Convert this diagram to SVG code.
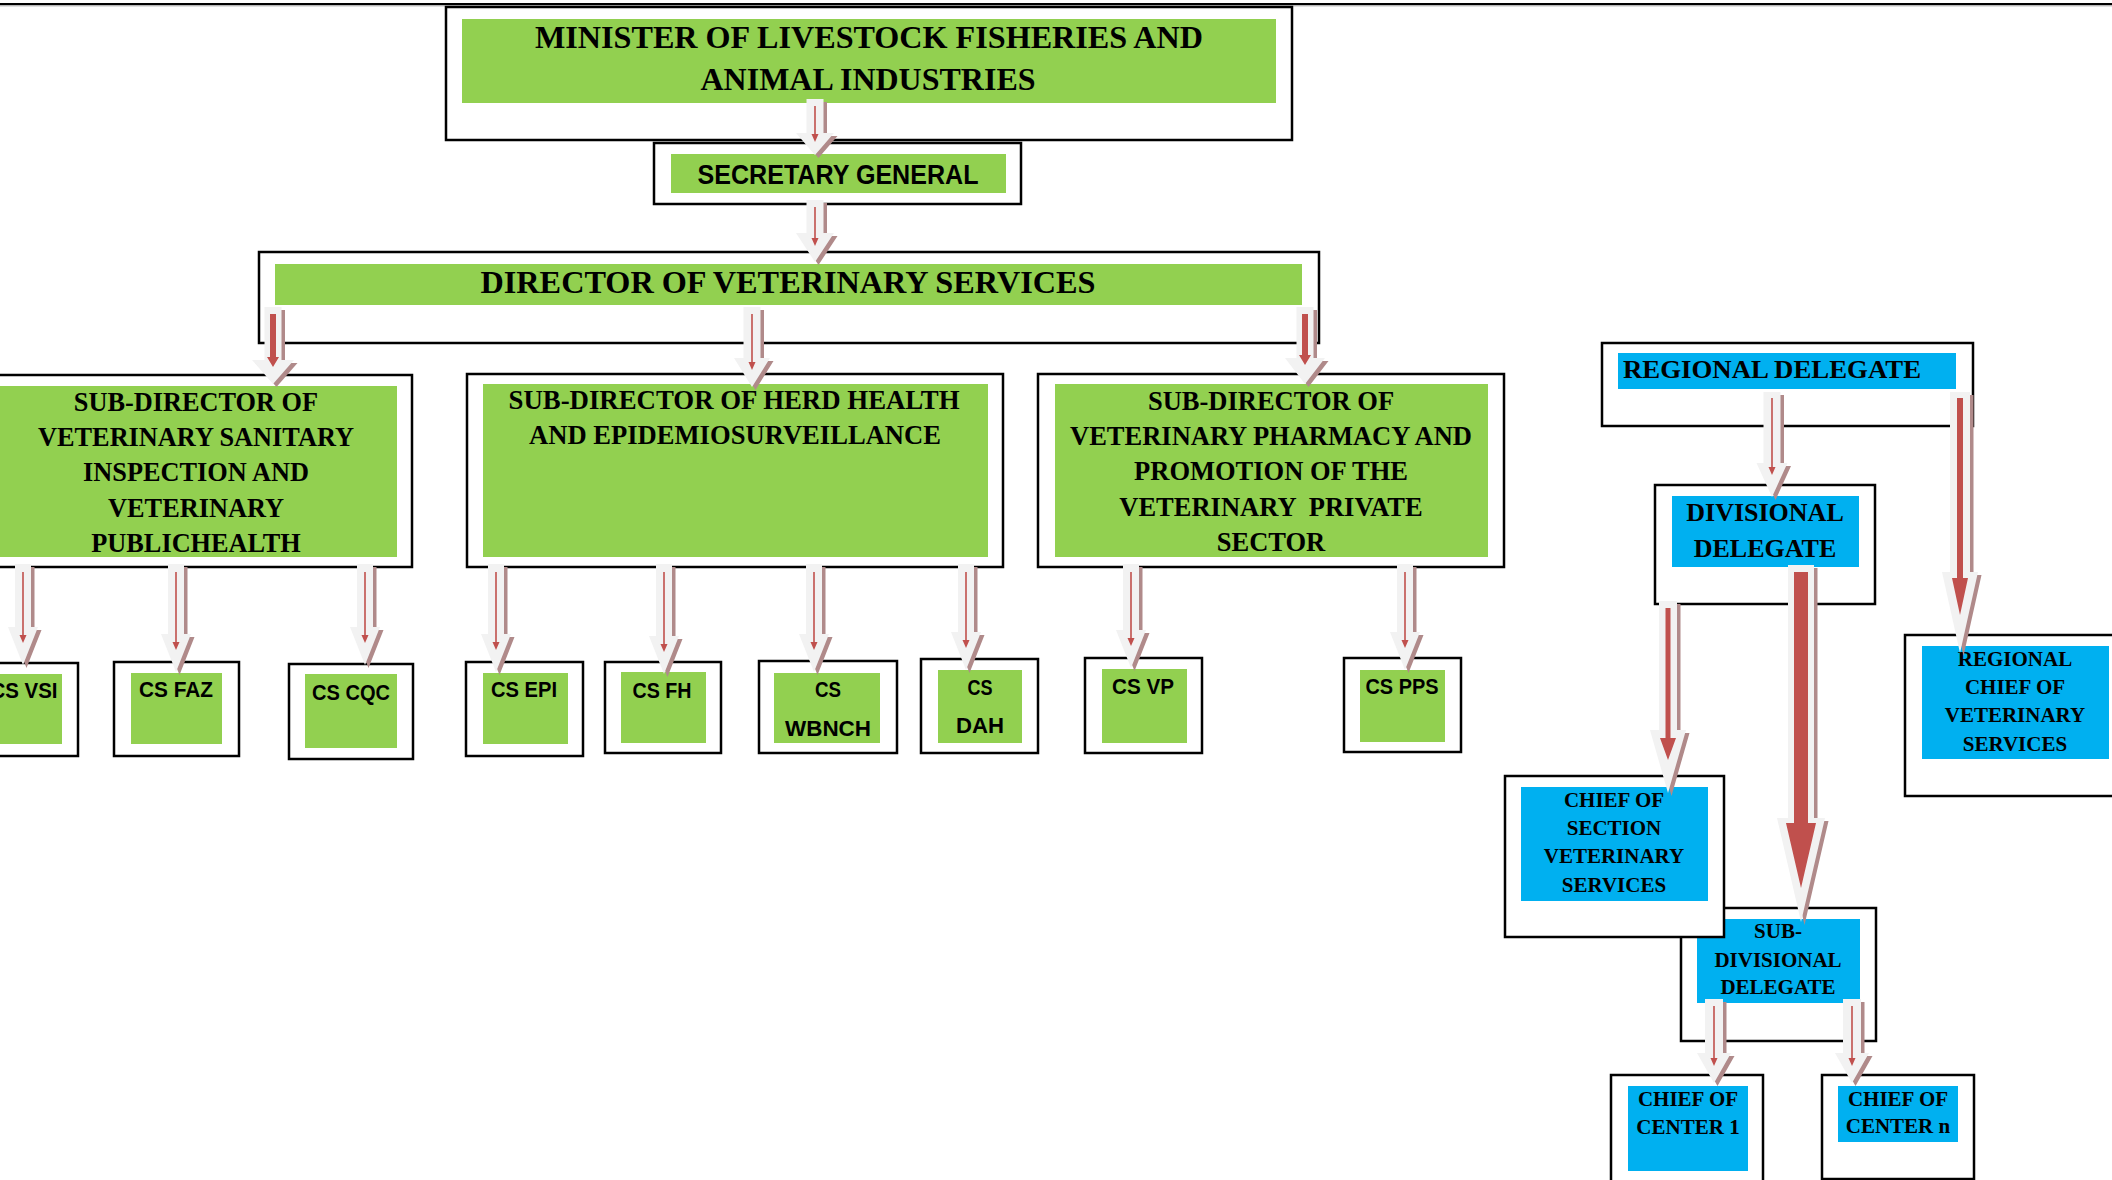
<svg xmlns="http://www.w3.org/2000/svg" width="2112" height="1180" viewBox="0 0 2112 1180">
<style>
.frame{fill:#fff;stroke:#000;stroke-width:2.5}
.g{fill:#92d050}
.b{fill:#00b0f0}
.t{font-family:"Liberation Serif","Times New Roman",serif;font-weight:bold;fill:#000;text-anchor:middle}
.s{font-family:"Liberation Sans",Arial,sans-serif;font-weight:bold;fill:#000;text-anchor:middle}
.ar{fill:#f2f2f2}
.sh{fill:#b08a8a}
.rd{fill:#c0504d}
</style>
<rect x="0" y="0" width="2112" height="1180" fill="#fff"/>
<line x1="0" y1="4" x2="2112" y2="4" stroke="#000" stroke-width="2"/>
<line x1="0" y1="5.8" x2="2112" y2="5.8" stroke="#999" stroke-width="1"/>

<g id="minister">
<rect class="frame" x="446" y="7" width="846" height="133"/>
<rect class="g" x="462" y="19" width="814" height="84"/>
<text class="t" x="869" y="48" font-size="32" textLength="668" lengthAdjust="spacingAndGlyphs">MINISTER OF LIVESTOCK FISHERIES AND</text>
<text class="t" x="868" y="90" font-size="32" textLength="335" lengthAdjust="spacingAndGlyphs">ANIMAL INDUSTRIES</text>
</g>
<g id="secretary-general">
<rect class="frame" x="654" y="143" width="367" height="61"/>
<rect class="g" x="671" y="154" width="335" height="39"/>
<text class="s" x="838" y="184" font-size="27" textLength="281" lengthAdjust="spacingAndGlyphs">SECRETARY GENERAL</text>
</g>
<g id="director">
<rect class="frame" x="259" y="252" width="1060" height="91"/>
<rect class="g" x="275" y="264" width="1027" height="41"/>
<text class="t" x="788" y="293" font-size="32" textLength="615" lengthAdjust="spacingAndGlyphs">DIRECTOR OF VETERINARY SERVICES</text>
</g>
<g id="sub-director-sanitary">
<rect class="frame" x="-20" y="375" width="432" height="192"/>
<rect class="g" x="-5" y="386" width="402" height="171"/>
<text class="t" font-size="26.3"><tspan x="196" y="411">SUB-DIRECTOR OF</tspan><tspan x="196" y="446">VETERINARY SANITARY</tspan><tspan x="196" y="481">INSPECTION AND</tspan><tspan x="196" y="517">VETERINARY</tspan><tspan x="196" y="552">PUBLICHEALTH</tspan></text>
</g>
<g id="sub-director-herd">
<rect class="frame" x="467" y="374" width="536" height="193"/>
<rect class="g" x="483" y="384" width="505" height="173"/>
<text class="t" x="734" y="409" font-size="26.5" textLength="451" lengthAdjust="spacingAndGlyphs">SUB-DIRECTOR OF HERD HEALTH</text>
<text class="t" x="735" y="444" font-size="26.5" textLength="412" lengthAdjust="spacingAndGlyphs">AND EPIDEMIOSURVEILLANCE</text>
</g>
<g id="sub-director-pharmacy">
<rect class="frame" x="1038" y="374" width="466" height="193"/>
<rect class="g" x="1055" y="384" width="433" height="173"/>
<text class="t" font-size="26.5" xml:space="preserve"><tspan x="1271" y="410">SUB-DIRECTOR OF</tspan><tspan x="1271" y="445">VETERINARY PHARMACY AND</tspan><tspan x="1271" y="480">PROMOTION OF THE</tspan><tspan x="1271" y="516">VETERINARY  PRIVATE</tspan><tspan x="1271" y="551">SECTOR</tspan></text>
</g>

<g id="cs-vsi">
<rect class="frame" x="-47" y="663" width="125" height="93"/>
<rect class="g" x="-29" y="674" width="91" height="70"/>
<text class="s" x="24" y="698" font-size="22" textLength="67" lengthAdjust="spacingAndGlyphs">CS VSI</text>
</g>
<g id="cs-faz">
<rect class="frame" x="114" y="662" width="125" height="94"/>
<rect class="g" x="131" y="673" width="91" height="71"/>
<text class="s" x="176" y="697" font-size="22" textLength="74" lengthAdjust="spacingAndGlyphs">CS FAZ</text>
</g>
<g id="cs-cqc">
<rect class="frame" x="289" y="664" width="124" height="95"/>
<rect class="g" x="305" y="674" width="92" height="74"/>
<text class="s" x="351" y="700" font-size="22" textLength="78" lengthAdjust="spacingAndGlyphs">CS CQC</text>
</g>
<g id="cs-epi">
<rect class="frame" x="466" y="662" width="117" height="94"/>
<rect class="g" x="483" y="673" width="85" height="71"/>
<text class="s" x="524" y="697" font-size="22" textLength="66" lengthAdjust="spacingAndGlyphs">CS EPI</text>
</g>
<g id="cs-fh">
<rect class="frame" x="605" y="662" width="116" height="91"/>
<rect class="g" x="621" y="672" width="85" height="71"/>
<text class="s" x="662" y="698" font-size="22" textLength="59" lengthAdjust="spacingAndGlyphs">CS FH</text>
</g>
<g id="cs-wbnch">
<rect class="frame" x="759" y="661" width="138" height="92"/>
<rect class="g" x="774" y="673" width="106" height="70"/>
<text class="s" x="828" y="697" font-size="22" textLength="26" lengthAdjust="spacingAndGlyphs">CS</text>
<text class="s" x="828" y="736" font-size="22" textLength="86" lengthAdjust="spacingAndGlyphs">WBNCH</text>
</g>
<g id="cs-dah">
<rect class="frame" x="921" y="659" width="117" height="94"/>
<rect class="g" x="938" y="670" width="84" height="73"/>
<text class="s" x="980" y="695" font-size="22" textLength="25" lengthAdjust="spacingAndGlyphs">CS</text>
<text class="s" x="980" y="733" font-size="22" textLength="48" lengthAdjust="spacingAndGlyphs">DAH</text>
</g>
<g id="cs-vp">
<rect class="frame" x="1085" y="658" width="117" height="95"/>
<rect class="g" x="1102" y="669" width="85" height="74"/>
<text class="s" x="1143" y="694" font-size="22" textLength="62" lengthAdjust="spacingAndGlyphs">CS VP</text>
</g>
<g id="cs-pps">
<rect class="frame" x="1344" y="658" width="117" height="94"/>
<rect class="g" x="1360" y="670" width="85" height="72"/>
<text class="s" x="1402" y="694" font-size="22" textLength="73" lengthAdjust="spacingAndGlyphs">CS PPS</text>
</g>

<g id="regional-delegate">
<rect class="frame" x="1602" y="343" width="371" height="83"/>
<rect class="b" x="1618" y="353" width="338" height="36"/>
<text class="t" x="1623" y="378" font-size="26" text-anchor="start" style="text-anchor:start" textLength="298" lengthAdjust="spacingAndGlyphs">REGIONAL DELEGATE</text>
</g>
<g id="divisional-delegate">
<rect class="frame" x="1655" y="485" width="220" height="119"/>
<rect class="b" x="1672" y="496" width="187" height="71"/>
<text class="t" font-size="26"><tspan x="1765" y="521">DIVISIONAL</tspan><tspan x="1765" y="557">DELEGATE</tspan></text>
</g>
<g id="regional-chief">
<rect class="frame" x="1905" y="635" width="230" height="161"/>
<rect class="b" x="1922" y="646" width="187" height="113"/>
<text class="t" font-size="21"><tspan x="2015" y="666">REGIONAL</tspan><tspan x="2015" y="694">CHIEF OF</tspan><tspan x="2015" y="722">VETERINARY</tspan><tspan x="2015" y="751">SERVICES</tspan></text>
</g>
<g id="sub-divisional-delegate">
<rect class="frame" x="1681" y="908" width="195" height="133"/>
<rect class="b" x="1697" y="919" width="163" height="84"/>
<text class="t" font-size="21"><tspan x="1778" y="938">SUB-</tspan><tspan x="1778" y="967">DIVISIONAL</tspan><tspan x="1778" y="994">DELEGATE</tspan></text>
</g>
<g id="chief-of-section">
<rect class="frame" x="1505" y="776" width="219" height="161"/>
<rect class="b" x="1521" y="787" width="187" height="114"/>
<text class="t" font-size="21"><tspan x="1614" y="807">CHIEF OF</tspan><tspan x="1614" y="835">SECTION</tspan><tspan x="1614" y="863">VETERINARY</tspan><tspan x="1614" y="892">SERVICES</tspan></text>
</g>
<g id="chief-center-1">
<rect class="frame" x="1611" y="1075" width="152" height="120"/>
<rect class="b" x="1628" y="1086" width="120" height="85"/>
<text class="t" font-size="21"><tspan x="1688" y="1106">CHIEF OF</tspan><tspan x="1688" y="1134">CENTER 1</tspan></text>
</g>
<g id="chief-center-n">
<rect class="frame" x="1822" y="1075" width="152" height="104"/>
<rect class="b" x="1838" y="1086" width="120" height="56"/>
<text class="t" font-size="21"><tspan x="1898" y="1106">CHIEF OF</tspan><tspan x="1898" y="1133">CENTER n</tspan></text>
</g>

<g id="connectors">
<g><path class="sh" transform="translate(3.5,3)" d="M806.5,99 H823.5 V133 H834 L815,155 L796,133 H806.5 Z"/><path class="ar" d="M806.5,99 H823.5 V133 H834 L815,155 L796,133 H806.5 Z"/><path class="rd" d="M814.2,106 H815.8 V134 H818.5 L815,142 L811.5,134 H814.2 Z"/></g>
<g><path class="sh" transform="translate(3.5,3)" d="M806.5,200 H823.5 V233 H834 L815,262 L796,233 H806.5 Z"/><path class="ar" d="M806.5,200 H823.5 V233 H834 L815,262 L796,233 H806.5 Z"/><path class="rd" d="M814.2,207 H815.8 V238 H818.5 L815,246 L811.5,238 H814.2 Z"/></g>
<g><path class="sh" transform="translate(3.5,3)" d="M264.5,307 H281.5 V360 H294 L273,384 L252,360 H264.5 Z"/><path class="ar" d="M264.5,307 H281.5 V360 H294 L273,384 L252,360 H264.5 Z"/><path class="rd" d="M270,314 H276 V357 H279 L273,367 L267,357 H270 Z"/></g>
<g><path class="sh" transform="translate(3.5,3)" d="M743.5,307 H760.5 V358 H770 L752,387 L734,358 H743.5 Z"/><path class="ar" d="M743.5,307 H760.5 V358 H770 L752,387 L734,358 H743.5 Z"/><path class="rd" d="M751.2,314 H752.8 V362 H755.5 L752,370 L748.5,362 H751.2 Z"/></g>
<g><path class="sh" transform="translate(3.5,3)" d="M1296.5,307 H1313.5 V358 H1325 L1305,384 L1285,358 H1296.5 Z"/><path class="ar" d="M1296.5,307 H1313.5 V358 H1325 L1305,384 L1285,358 H1296.5 Z"/><path class="rd" d="M1302,314 H1308 V355 H1311 L1305,365 L1299,355 H1302 Z"/></g>

<g><path class="sh" transform="translate(3.5,3)" d="M15,564 H31 V627 H38 L23,665 L8,627 H15 Z"/><path class="ar" d="M15,564 H31 V627 H38 L23,665 L8,627 H15 Z"/><path class="rd" d="M22.2,572 H23.8 V635 H26.5 L23,643 L19.5,635 H22.2 Z"/></g>
<g><path class="sh" transform="translate(3.5,3)" d="M168,564 H184 V634 H191 L176,672 L161,634 H168 Z"/><path class="ar" d="M168,564 H184 V634 H191 L176,672 L161,634 H168 Z"/><path class="rd" d="M175.2,572 H176.8 V642 H179.5 L176,650 L172.5,642 H175.2 Z"/></g>
<g><path class="sh" transform="translate(3.5,3)" d="M357,564 H373 V627 H380 L365,665 L350,627 H357 Z"/><path class="ar" d="M357,564 H373 V627 H380 L365,665 L350,627 H357 Z"/><path class="rd" d="M364.2,572 H365.8 V635 H368.5 L365,643 L361.5,635 H364.2 Z"/></g>
<g><path class="sh" transform="translate(3.5,3)" d="M488,564 H504 V634 H511 L496,672 L481,634 H488 Z"/><path class="ar" d="M488,564 H504 V634 H511 L496,672 L481,634 H488 Z"/><path class="rd" d="M495.2,572 H496.8 V642 H499.5 L496,650 L492.5,642 H495.2 Z"/></g>
<g><path class="sh" transform="translate(3.5,3)" d="M656,564 H672 V636 H679 L664,674 L649,636 H656 Z"/><path class="ar" d="M656,564 H672 V636 H679 L664,674 L649,636 H656 Z"/><path class="rd" d="M663.2,572 H664.8 V644 H667.5 L664,652 L660.5,644 H663.2 Z"/></g>
<g><path class="sh" transform="translate(3.5,3)" d="M806,564 H822 V634 H829 L814,672 L799,634 H806 Z"/><path class="ar" d="M806,564 H822 V634 H829 L814,672 L799,634 H806 Z"/><path class="rd" d="M813.2,572 H814.8 V642 H817.5 L814,650 L810.5,642 H813.2 Z"/></g>
<g><path class="sh" transform="translate(3.5,3)" d="M958,564 H974 V632 H981 L966,670 L951,632 H958 Z"/><path class="ar" d="M958,564 H974 V632 H981 L966,670 L951,632 H958 Z"/><path class="rd" d="M965.2,572 H966.8 V640 H969.5 L966,648 L962.5,640 H965.2 Z"/></g>
<g><path class="sh" transform="translate(3.5,3)" d="M1123,564 H1139 V630 H1146 L1131,668 L1116,630 H1123 Z"/><path class="ar" d="M1123,564 H1139 V630 H1146 L1131,668 L1116,630 H1123 Z"/><path class="rd" d="M1130.2,572 H1131.8 V638 H1134.5 L1131,646 L1127.5,638 H1130.2 Z"/></g>
<g><path class="sh" transform="translate(3.5,3)" d="M1397,564 H1413 V632 H1420 L1405,670 L1390,632 H1397 Z"/><path class="ar" d="M1397,564 H1413 V632 H1420 L1405,670 L1390,632 H1397 Z"/><path class="rd" d="M1404.2,572 H1405.8 V640 H1408.5 L1405,648 L1401.5,640 H1404.2 Z"/></g>

<g><path class="sh" transform="translate(3.5,3)" d="M1763.5,392 H1780.5 V463 H1787.5 L1772,497 L1756.5,463 H1763.5 Z"/><path class="ar" d="M1763.5,392 H1780.5 V463 H1787.5 L1772,497 L1756.5,463 H1763.5 Z"/><path class="rd" d="M1771.2,398 H1772.8 V467 H1775.5 L1772,475 L1768.5,467 H1771.2 Z"/></g>
<g><path class="sh" transform="translate(3.5,3)" d="M1950,392 H1970 V572 H1978 L1960,653 L1942,572 H1950 Z"/><path class="ar" d="M1950,392 H1970 V572 H1978 L1960,653 L1942,572 H1950 Z"/><path class="rd" d="M1957,398 H1963 V578 H1968 L1960,615 L1952,578 H1957 Z"/></g>
<g><path class="sh" transform="translate(3.5,3)" d="M1659,601 H1677 V730 H1686 L1668,793 L1650,730 H1659 Z"/><path class="ar" d="M1659,601 H1677 V730 H1686 L1668,793 L1650,730 H1659 Z"/><path class="rd" d="M1665.5,608 H1670.5 V738 H1676 L1668,760 L1660,738 H1665.5 Z"/></g>
<g><path class="sh" transform="translate(3.5,3)" d="M1788,565 H1814 V818 H1825 L1801,922 L1777,818 H1788 Z"/><path class="ar" d="M1788,565 H1814 V818 H1825 L1801,922 L1777,818 H1788 Z"/><path class="rd" d="M1794,572 H1808 V823 H1816 L1801,888 L1786,823 H1794 Z"/></g>
<g><path class="sh" transform="translate(3.5,3)" d="M1705,999 H1723 V1053 H1731 L1714,1083 L1697,1053 H1705 Z"/><path class="ar" d="M1705,999 H1723 V1053 H1731 L1714,1083 L1697,1053 H1705 Z"/><path class="rd" d="M1713.2,1006 H1714.8 V1058 H1717.5 L1714,1066 L1710.5,1058 H1713.2 Z"/></g>
<g><path class="sh" transform="translate(3.5,3)" d="M1843,999 H1861 V1053 H1869 L1852,1083 L1835,1053 H1843 Z"/><path class="ar" d="M1843,999 H1861 V1053 H1869 L1852,1083 L1835,1053 H1843 Z"/><path class="rd" d="M1851.2,1006 H1852.8 V1058 H1855.5 L1852,1066 L1848.5,1058 H1851.2 Z"/></g>
</g>
</svg>
